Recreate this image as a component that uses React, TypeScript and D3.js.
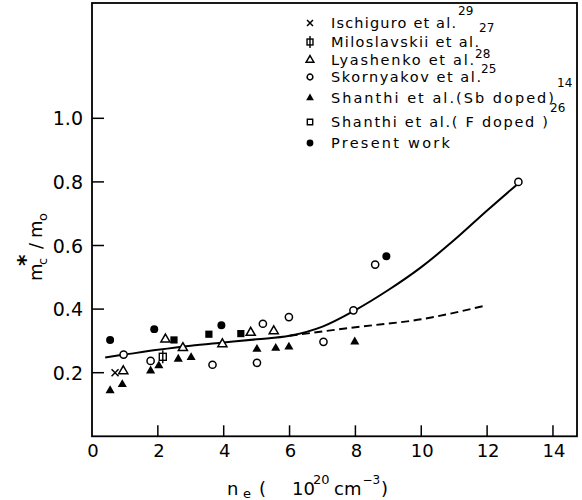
import React from "react";
import * as d3 from "d3";

// carrier effective mass vs electron concentration
const ischiguro = [[0.7, 0.2]];
const miloslavskii = [[2.15, 0.25]];
const lyashenko = [[0.95, 0.205], [2.23, 0.305], [2.76, 0.278], [3.96, 0.29], [4.82, 0.326], [5.52, 0.331]];
const skornyakov = [[0.96, 0.257], [1.78, 0.237], [3.66, 0.225], [5.01, 0.231], [5.19, 0.354], [5.98, 0.375], [7.03, 0.297], [7.94, 0.396], [8.6, 0.54], [12.95, 0.8]];
const shanthiSb = [[0.55, 0.144], [0.92, 0.163], [1.78, 0.206], [2.03, 0.222], [2.62, 0.243], [3.01, 0.248], [5.01, 0.274], [5.58, 0.277], [5.98, 0.281], [7.98, 0.297]];
const shanthiF = [[2.49, 0.303], [3.55, 0.321], [4.52, 0.323]];
const present = [[0.55, 0.303], [1.89, 0.337], [3.93, 0.349], [8.94, 0.566]];

const fitSolid = [[0.4, 0.248], [1, 0.257], [2, 0.272], [3, 0.285], [4, 0.295], [5, 0.305], [6, 0.316], [7, 0.345], [8, 0.397], [9, 0.46], [10, 0.532], [11, 0.617], [12, 0.71], [13, 0.8]];
const fitDashed = [[6, 0.316], [8, 0.343], [10, 0.368], [11.9, 0.41]];

const xTicks = [0, 2, 4, 6, 8, 10, 12, 14];
const yTicks = [0.2, 0.4, 0.6, 0.8, 1.0];

const legendItems = [
  { label: "Ischiguro et al.", sup: "29", kind: "x", width: 125 },
  { label: "Miloslavskii et al.", sup: "27", kind: "phi", width: 148 },
  { label: "Lyashenko et al.", sup: "28", kind: "triOpen", width: 143 },
  { label: "Skornyakov et al.", sup: "25", kind: "circOpen", width: 150 },
  { label: "Shanthi et al.(Sb doped)", sup: "14", kind: "triFill", width: 223 },
  { label: "Shanthi et al.( F doped )", sup: "26", kind: "sqOpen", width: 217 },
  { label: "Present work", sup: "", kind: "circFill", width: 119 },
];
// legend layout
const legY = [28, 47, 65, 82, 103, 127, 148];
const legSup = [[458, 15], [479, 32], [475, 58], [481, 73], [557, 87], [550, 112]];

const font = "'DejaVu Sans', sans-serif";

function Marker({ kind, cx, cy, s = 1 }) {
  const tri = d3.symbol(d3.symbolTriangle, 36 * s * s)();
  const circ = d3.symbol(d3.symbolCircle, 50 * s * s)();
  const sq = d3.symbol(d3.symbolSquare, 52 * s * s)();
  const t = `translate(${cx},${cy})`;
  switch (kind) {
    case "x": {
      const r = 3.5 * s;
      return <path transform={t} d={`M${-r},${-r}L${r},${r}M${-r},${r}L${r},${-r}`} stroke="#000" strokeWidth={1.5} />;
    }
    case "phi": {
      const h = 3.5 * s;
      return (
        <g transform={t}>
          <rect x={-h} y={-h} width={2 * h} height={2 * h} fill="#fff" stroke="#000" strokeWidth={1.4} />
          <path d={`M0,${-h - 3}V${h + 3}`} stroke="#000" strokeWidth={1.4} />
        </g>
      );
    }
    case "triOpen":
      return <path transform={t} d={tri} fill="#fff" stroke="#000" strokeWidth={1.5} />;
    case "triFill":
      return <path transform={t} d={tri} fill="#000" />;
    case "circOpen":
      return <path transform={t} d={d3.symbol(d3.symbolCircle, 36 * s * s)()} fill="#fff" stroke="#000" strokeWidth={1.5} />;
    case "circFill":
      return <path transform={t} d={circ} fill="#000" />;
    case "sqOpen":
      return <path transform={t} d={d3.symbol(d3.symbolSquare, 40 * s * s)()} fill="#fff" stroke="#000" strokeWidth={1.4} />;
    case "sqFill":
      return <path transform={t} d={sq} fill="#000" />;
  }
  return null;
}

export default function App() {
  const x = d3.scaleLinear().domain([0, 14.73]).range([92, 577]);
  const y = d3.scaleLinear().domain([0, 1.3626]).range([436.3, 3]);

  const line = d3.line().x((d) => x(d[0])).y((d) => y(d[1]));
  const solid = line.curve(d3.curveCatmullRom)(fitSolid);
  const dashed = d3.line().x((d) => x(d[0])).y((d) => y(d[1])).curve(d3.curveMonotoneX)(fitDashed);

  const series = [
    { data: ischiguro, kind: "x" },
    { data: miloslavskii, kind: "phi" },
    { data: lyashenko, kind: "triOpen" },
    { data: shanthiSb, kind: "triFill" },
    { data: shanthiF, kind: "sqFill" },
    { data: present, kind: "circFill" },
  ];

  return (
    <svg width={582} height={500} style={{ position: "absolute", left: 0, top: 0, background: "#fff" }} fontFamily={font}>
      <rect x={0} y={0} width={582} height={500} fill="#fff" />
      {/* curves */}
      <path d={solid} fill="none" stroke="#000" strokeWidth={2} />
      <path d={dashed} fill="none" stroke="#000" strokeWidth={1.9} strokeDasharray="8,4.5" />

      {/* points */}
      {series.map((s, i) =>
        s.data.map((d, j) => <Marker key={`${i}-${j}`} kind={s.kind} cx={x(d[0])} cy={y(d[1])} />)
      )}
      {skornyakov.map((d, j) => (
        <circle key={`sk${j}`} cx={x(d[0])} cy={y(d[1])} r={3.6} fill="#fff" stroke="#000" strokeWidth={1.5} />
      ))}

      {/* frame */}
      <rect x={x(0)} y={y(1.3626)} width={x(14.73) - x(0)} height={y(0) - y(1.3626)} fill="none" stroke="#000" strokeWidth={1.8} />

      {/* x ticks */}
      {xTicks.map((t) => (
        <g key={`xt${t}`}>
          {t > 0 && <line x1={x(t)} x2={x(t)} y1={y(0)} y2={y(0) - 11} stroke="#000" strokeWidth={1.5} />}
          <text x={x(t) + 1} y={457} fontSize={18} textAnchor="middle">{t}</text>
        </g>
      ))}
      {/* y ticks */}
      {yTicks.map((t) => (
        <g key={`yt${t}`}>
          <line x1={x(0)} x2={x(0) + 12} y1={y(t)} y2={y(t)} stroke="#000" strokeWidth={1.5} />
          <text x={83} y={y(t) + 7} fontSize={19} textAnchor="end">{t.toFixed(1)}</text>
        </g>
      ))}

      {/* x axis title */}
      <g fontSize={18}>
        <text x={227} y={495}>n</text>
        <text x={243} y={498} fontSize={13}>e</text>
        <text x={259} y={495}>(</text>
        <text x={292} y={495}>10</text>
        <text x={313} y={484} fontSize={13}>20</text>
        <text x={334} y={495}>cm</text>
        <text x={362.5} y={484} fontSize={12}>−3</text>
        <text x={381} y={495}>)</text>
      </g>

      {/* y axis title */}
      <g transform="translate(42,281) rotate(-90)" fontSize={18}>
        <text x={0} y={0}>m</text>
        <text x={16} y={5} fontSize={13}>c</text>
        <text x={15} y={-9} fontSize={22} fontWeight="bold">*</text>
        <text x={32} y={0}>/</text>
        <text x={43} y={0}>m</text>
        <text x={60} y={5} fontSize={13}>o</text>
      </g>

      {/* legend */}
      {legendItems.map((it, i) => (
        <g key={`lg${i}`}>
          <Marker kind={it.kind} cx={310} cy={legY[i] - 5} s={0.85} />
          <text x={331} y={legY[i]} fontSize={14.5} textLength={it.width} lengthAdjust="spacing">{it.label}</text>
          {it.sup && (
            <text x={legSup[i][0]} y={legSup[i][1]} fontSize={12}>{it.sup}</text>
          )}
        </g>
      ))}
    </svg>
  );
}
